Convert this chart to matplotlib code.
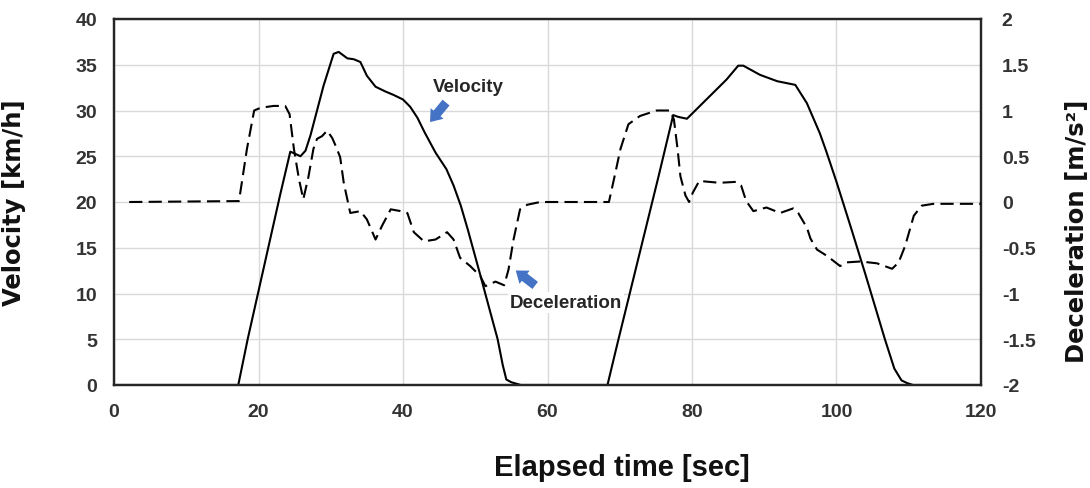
import matplotlib
matplotlib.use("Agg")
import matplotlib.pyplot as plt

plt.rcParams['font.family'] = ['Liberation Sans', 'DejaVu Sans']
plt.rcParams['lines.scale_dashes'] = False

# Velocity [km/h] vs time [s]
vel_t = [0, 17.2, 18.5, 23.0, 24.4, 25.0, 25.8, 26.5, 27.2, 28.1, 29.0, 30.4, 31.1,
         32.3, 33.2, 34.1, 35.0, 36.2, 37.5, 38.7, 40.0, 41.0, 42.0, 43.0, 44.5,
         46.0, 47.0, 48.0, 49.0, 50.6, 52.0, 53.1, 53.8, 54.3, 55.0, 56.3,
         68.3, 69.7, 75.4, 77.4, 78.1, 79.3, 80.2, 82.5, 84.8, 86.4, 87.1, 89.4,
         91.8, 94.3, 95.9, 97.7, 98.6, 100.0, 102.0, 104.0, 106.7, 108.0, 109.0,
         109.8, 110.6, 120]
vel_v = [0, 0, 5.0, 20.8, 25.5, 25.3, 25.0, 25.6, 27.3, 30.0, 32.7, 36.2, 36.4,
         35.7, 35.6, 35.3, 33.8, 32.6, 32.1, 31.7, 31.2, 30.4, 29.2, 27.6, 25.4,
         23.6, 21.8, 19.6, 16.9, 12.3, 8.2, 5.0, 2.2, 0.6, 0.3, 0,
         0, 4.6, 22.9, 29.5, 29.3, 29.1, 29.8, 31.6, 33.4, 34.9, 34.9, 33.9,
         33.2, 32.8, 30.8, 27.5, 25.5, 22.2, 17.2, 12.1, 5.0, 1.8, 0.5,
         0.2, 0, 0]

# Deceleration [m/s^2] vs time [s]
dec_t = [2.1, 17.3, 18.4, 19.4, 20.3, 22.1, 23.7, 24.3, 24.9, 25.6, 26.2, 26.9,
         27.6, 28.1, 28.8, 29.5, 30.2, 30.7, 31.3, 31.8, 32.7, 34.1, 35.0, 36.2,
         37.1, 38.3, 39.7, 40.6, 41.5, 42.9, 44.5, 46.1, 47.0, 47.9, 49.3, 50.7,
         51.4, 52.8, 54.0, 54.6, 55.3, 56.2, 57.2, 59.0, 68.5, 69.2, 70.1, 71.2,
         72.8, 75.1, 77.0, 77.5, 78.0, 78.4, 79.1, 79.6, 80.1, 81.0, 83.8, 86.1,
         86.8, 87.5, 88.5, 90.3, 92.2, 94.0, 94.7, 95.9, 96.4, 97.3, 98.7, 100.5,
         101.4, 103.3, 105.6, 107.7, 108.6, 109.5, 110.7, 111.8, 113.4, 120]
dec_v = [0, 0.01, 0.58, 1.0, 1.03, 1.05, 1.05, 0.96, 0.58, 0.25, 0.03, 0.27,
         0.58, 0.69, 0.72, 0.78, 0.70, 0.61, 0.49, 0.21, -0.12, -0.10, -0.19, -0.41,
         -0.26, -0.08, -0.10, -0.12, -0.33, -0.43, -0.41, -0.33, -0.41, -0.61, -0.70, -0.81,
         -0.92, -0.87, -0.91, -0.74, -0.41, -0.08, -0.03, 0, 0, 0.25, 0.58, 0.85,
         0.94, 1.0, 1.0, 0.9, 0.58, 0.28, 0.07, 0, 0.1, 0.23, 0.21, 0.22,
         0.18, 0.01, -0.10, -0.06, -0.12, -0.07, -0.12, -0.28, -0.40, -0.52, -0.59, -0.70,
         -0.66, -0.65, -0.67, -0.73, -0.66, -0.48, -0.15, -0.04, -0.02, -0.02]

x_ticks = [0, 20, 40, 60, 80, 100, 120]
y_ticks = [0, 5, 10, 15, 20, 25, 30, 35, 40]
y2_ticks = [-2, -1.5, -1, -0.5, 0, 0.5, 1, 1.5, 2]
y2_labels = ['-2', '-1.5', '-1', '-0.5', '0', '0.5', '1', '1.5', '2']

fig = plt.figure(figsize=(10.9, 4.89), dpi=100)
ax = fig.add_axes([114/1090, 1-386/489, (981-114)/1090, (386-20)/489])
ax2 = ax.twinx()

ax.set_xlim(0, 120)
ax.set_ylim(0, 40)
ax2.set_ylim(-2, 2)

ax.set_xticks(x_ticks)
ax.set_yticks(y_ticks)
ax2.set_yticks(y2_ticks)
ax2.set_yticklabels(y2_labels)

ax.grid(True, color='#d9d9d9', linewidth=1.0)
ax.set_axisbelow(True)

ax.plot(vel_t, vel_v, color='black', linewidth=1.5, zorder=3)
ax2.plot(dec_t, dec_v, color='black', linewidth=1.5, dashes=(9.5, 4.5), zorder=3)

for a in (ax, ax2):
    for s in a.spines.values():
        s.set_color('#262626')
        s.set_linewidth(1.6)

ax.tick_params(axis='both', length=0)
ax.tick_params(axis='y', pad=12)
ax.tick_params(axis='x', pad=13)
ax2.tick_params(axis='y', length=0, pad=15)
for lab in ax.get_xticklabels() + ax.get_yticklabels() + ax2.get_yticklabels():
    lab.set_fontsize(14)
    lab.set_fontweight('bold')
    lab.set_color('#333333')

ax.set_ylabel('Velocity [km/h]', fontsize=17.5, fontweight='bold', color='#111111',
              family=['DejaVu Sans'])
ax.yaxis.set_label_coords(-0.102, 0.5)
ax2.set_ylabel('Deceleration [m/s²]', fontsize=17.5, fontweight='bold', color='#111111',
               family=['DejaVu Sans'])
ax2.yaxis.set_label_coords(1.097, 0.4235)
fig.text(622/1090, 1-468/489, 'Elapsed time [sec]', fontsize=21, fontweight='bold',
         color='#111111', ha='center', va='center')

blue = '#4472C4'
arrow_style = 'simple,head_length=0.8,head_width=1.2,tail_width=0.65'
ax.text(44.1, 32.6, 'Velocity', fontsize=13.5, fontweight='bold', color='#262626',
        ha='left', va='center', zorder=5)
ax.annotate('', xy=(43.5, 28.5), xytext=(46.2, 31.1),
            arrowprops=dict(arrowstyle=arrow_style, color=blue, lw=0), zorder=5)
ax.text(54.8, 9.0, 'Deceleration', fontsize=13.5, fontweight='bold', color='#262626',
        ha='left', va='center', zorder=5,
        bbox=dict(facecolor='white', edgecolor='none', pad=1.5))
ax.annotate('', xy=(55.3, 12.7), xytext=(58.6, 10.7),
            arrowprops=dict(arrowstyle=arrow_style, color=blue, lw=0), zorder=5)

fig.savefig('out.png', dpi=100)
